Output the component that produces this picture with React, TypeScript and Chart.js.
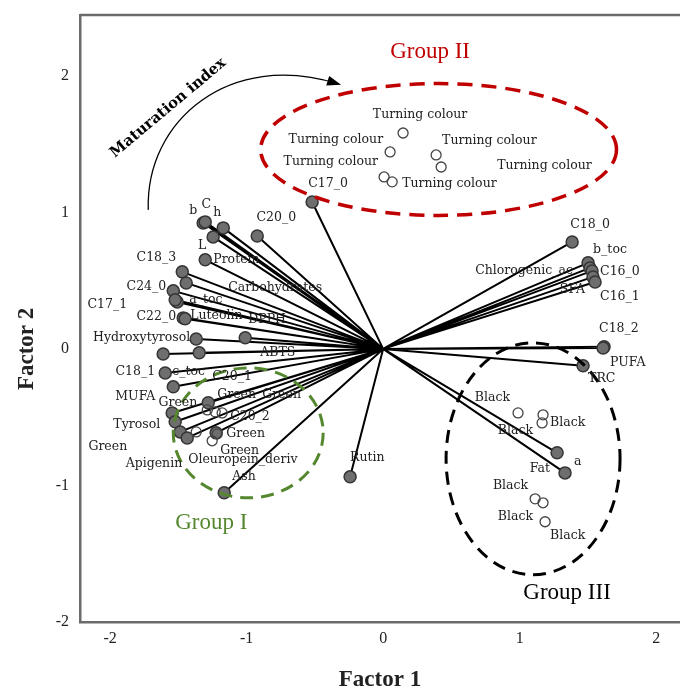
import React, { useEffect, useRef } from "react";
import { Chart, registerables } from "chart.js";
Chart.register(...registerables);

// ---- axis ticks ----
const xTicks = [-2, -1, 0, 1, 2];
const yTicks = [-2, -1, 0, 1, 2];

// ---- variable loadings (filled points with vectors from origin) ----
const varNames = [
  "b", "C", "h", "L", "Protein", "C20_0", "C17_0", "C18_3", "Carbohydrates", "C24_0",
  "a_toc", "C17_1", "C22_0", "Luteolin", "DPPH", "Hydroxytyrosol", "ABTS", "c_toc", "C18_1", "MUFA",
  "C20_1", "Tyrosol", "", "Oleuropein_deriv", "Apigenin", "C20_2", "Ash", "Rutin",
  "C18_0", "b_toc", "Chlorogenic_ac", "C16_0", "SFA", "C16_1", "C18_2", "PUFA", "TRC", "a", "Fat",
];
const varX = [
  -1.318, -1.303, -1.171, -1.245, -1.303, -0.922, -0.52, -1.471, -1.442, -1.537,
  -1.508, -1.523, -1.464, -1.45, -1.01, -1.369, -1.347, -1.611, -1.596, -1.537,
  -1.281, -1.545, -1.523, -1.486, -1.435, -1.223, -1.164, -0.242,
  1.384, 1.501, 1.515, 1.53, 1.537, 1.552, 1.618, 1.611, 1.464, 1.274, 1.332,
];
const varY = [
  0.922, 0.93, 0.886, 0.82, 0.652, 0.827, 1.076, 0.564, 0.483, 0.425,
  0.344, 0.359, 0.227, 0.22, 0.081, 0.073, -0.029, -0.037, -0.176, -0.278,
  -0.395, -0.469, -0.534, -0.608, -0.652, -0.615, -1.054, -0.937,
  0.783, 0.63, 0.593, 0.571, 0.527, 0.49, 0.015, 0.007, -0.124, -0.761, -0.908,
];

// ---- observations (open circles) ----
const obsNames = [
  "Turning colour", "Turning colour", "Turning colour", "Turning colour", "Turning colour", "Turning colour",
  "Black", "Black", "Black", "Black", "Black", "Black",
  "Green", "Green", "Green", "Green", "Green", "Green",
];
const obsX = [
  0.146, 0.051, 0.388, 0.425, 0.007, 0.066,
  0.988, 1.171, 1.164, 1.113, 1.171, 1.186,
  -1.288, -1.23, -1.179, -1.369, -1.252, -1.215,
];
const obsY = [
  1.581, 1.442, 1.42, 1.332, 1.259, 1.223,
  -0.469, -0.483, -0.542, -1.098, -1.127, -1.266,
  -0.447, -0.461, -0.469, -0.608, -0.673, -0.622,
];

// ---- label placement (pixel offset from point, text alignment) ----
const varLabelPlace: [number, number, CanvasTextAlign][] = [
  [-10, -12, "center"], [1, -17, "center"], [-6, -15, "center"], [-11, 9, "center"], [8, 0, "left"],
  [19, -18, "center"], [16, -18, "center"], [-6, -14, "right"], [42, 5, "left"], [-7, -4, "right"],
  [12, -2, "left"], [-48, 5, "right"], [-7, -1, "right"], [5, -3, "left"], [3, -18, "left"],
  [-6, -1, "right"], [61, 0, "left"], [9, 18, "left"], [-10, -1, "right"], [-18, 10, "right"],
  [4, -26, "left"], [-12, 12, "right"], [0, 0, "left"], [8, 28, "left"], [-5, 26, "right"],
  [14, -16, "left"], [8, -16, "left"], [0, -19, "left"],
  [18, -17, "center"], [5, -13, "left"], [-17, 3, "right"], [8, 1, "left"], [-8, 13, "right"],
  [5, 15, "left"], [-5, -18, "left"], [7, 15, "left"], [5, 13, "left"], [17, 9, "left"], [-15, -4, "right"],
];
const obsLabelPlace: [number, number, CanvasTextAlign][] = [
  [17, -18, "center"], [-7, -12, "right"], [6, -14, "left"], [56, -1, "left"], [-6, -15, "right"], [10, 2, "left"],
  [-8, -15, "right"], [7, 8, "left"], [-9, 8, "right"], [-7, -13, "right"], [-10, 14, "right"], [5, 14, "left"],
  [-10, -7, "right"], [2, -17, "left"], [40, -18, "left"], [-69, 15, "right"], [8, 10, "left"], [9, 0, "left"],
];

// ---- groups (dashed ellipses, in data units) ----
const groupNames = ["Group I", "Group II", "Group III"];
const groupLabelX = [-1.259, 0.344, 1.347];
const groupLabelY = [-1.274, 2.174, -1.786];
const ellipseCX = [-0.988, 0.406, 1.098];
const ellipseCY = [-0.615, 1.46, -0.805];
const ellipseRX = [0.549, 1.303, 0.637];
const ellipseRY = [0.476, 0.483, 0.849];
const groupColors = ["#55872f", "#c00000", "#000000"];

// ---- maturation arrow (data units) ----
const arrowX = [-1.72, -1.742, -1.12, -0.329];
const arrowY = [1.018, 1.676, 2.189, 1.94];
const maturationText = "Maturation index";
const maturationX = -1.574;
const maturationY = 1.764;

const overlay = {
  id: "overlay",
  afterDatasetsDraw(chart: any) {
    const { ctx, chartArea, scales } = chart;
    const xs = scales.x;
    const ys = scales.y;
    const px = (v: number) => xs.getPixelForValue(v);
    const py = (v: number) => ys.getPixelForValue(v);
    ctx.save();

    // top frame line
    ctx.strokeStyle = "#6b6b6b";
    ctx.lineWidth = 2.5;
    ctx.beginPath();
    ctx.moveTo(chartArea.left, chartArea.top);
    ctx.lineTo(chartArea.right, chartArea.top);
    ctx.stroke();

    // group ellipses
    for (let i = 0; i < groupNames.length; i++) {
      const cx = px(ellipseCX[i]);
      const cy = py(ellipseCY[i]);
      const rx = px(ellipseCX[i] + ellipseRX[i]) - cx;
      const ry = cy - py(ellipseCY[i] + ellipseRY[i]);
      ctx.strokeStyle = groupColors[i];
      ctx.lineWidth = i === 1 ? 3.5 : 3;
      ctx.setLineDash(i === 1 ? [15, 9] : [13, 8]);
      ctx.beginPath();
      ctx.ellipse(cx, cy, rx, ry, 0, 0, Math.PI * 2);
      ctx.stroke();
    }
    ctx.setLineDash([]);

    // point labels
    ctx.font = '12.5px "DejaVu Serif"';
    ctx.fillStyle = "#222";
    ctx.textBaseline = "middle";
    for (let i = 0; i < varNames.length; i++) {
      if (!varNames[i]) continue;
      const [dx, dy, al] = varLabelPlace[i];
      ctx.textAlign = al;
      ctx.fillText(varNames[i], px(varX[i]) + dx, py(varY[i]) + dy);
    }
    for (let i = 0; i < obsNames.length; i++) {
      const [dx, dy, al] = obsLabelPlace[i];
      ctx.textAlign = al;
      ctx.fillText(obsNames[i], px(obsX[i]) + dx, py(obsY[i]) + dy);
    }

    // group labels
    ctx.font = '23px "Liberation Serif"';
    ctx.textAlign = "center";
    for (let i = 0; i < groupNames.length; i++) {
      ctx.fillStyle = groupColors[i];
      ctx.fillText(groupNames[i], px(groupLabelX[i]), py(groupLabelY[i]));
    }

    // maturation arrow
    const ax = arrowX.map(px);
    const ay = arrowY.map(py);
    ctx.strokeStyle = "#000";
    ctx.lineWidth = 1.3;
    ctx.beginPath();
    ctx.moveTo(ax[0], ay[0]);
    ctx.bezierCurveTo(ax[1], ay[1], ax[2], ay[2], ax[3], ay[3]);
    ctx.stroke();
    const ang = Math.atan2(ay[3] - ay[2], ax[3] - ax[2]);
    ctx.fillStyle = "#000";
    ctx.beginPath();
    ctx.moveTo(ax[3] + 3 * Math.cos(ang), ay[3] + 3 * Math.sin(ang));
    ctx.lineTo(ax[3] - 11 * Math.cos(ang) + 5 * Math.sin(ang), ay[3] - 11 * Math.sin(ang) - 5 * Math.cos(ang));
    ctx.lineTo(ax[3] - 11 * Math.cos(ang) - 5 * Math.sin(ang), ay[3] - 11 * Math.sin(ang) + 5 * Math.cos(ang));
    ctx.closePath();
    ctx.fill();

    ctx.save();
    ctx.translate(px(maturationX), py(maturationY));
    ctx.rotate((-40 * Math.PI) / 180);
    ctx.font = 'bold 15px "DejaVu Serif"';
    ctx.textAlign = "center";
    ctx.fillText(maturationText, 0, 0);
    ctx.restore();

    // axis titles
    ctx.fillStyle = "#222";
    ctx.font = 'bold 23px "Liberation Serif"';
    ctx.textAlign = "center";
    ctx.fillText("Factor 1", (chartArea.left + chartArea.right) / 2, 680);
    ctx.save();
    ctx.translate(27, py(0));
    ctx.rotate(-Math.PI / 2);
    ctx.fillText("Factor 2", 0, 0);
    ctx.restore();

    ctx.restore();
  },
};

export default function App() {
  const ref = useRef<HTMLCanvasElement | null>(null);
  useEffect(() => {
    if (!ref.current) return;
    const lineData: { x: number; y: number }[] = [];
    varX.forEach((vx, i) => {
      lineData.push({ x: 0, y: 0 }, { x: vx, y: varY[i] }, { x: NaN, y: NaN });
    });
    const tickFont = { family: '"Liberation Serif"', size: 16 };
    const chart = new Chart(ref.current, {
      type: "scatter",
      data: {
        datasets: [
          {
            label: "observations",
            data: obsX.map((v, i) => ({ x: v, y: obsY[i] })),
            pointRadius: 5,
            pointBackgroundColor: "rgba(255,255,255,0)",
            pointBorderColor: "#444",
            pointBorderWidth: 1.3,
          },
          {
            label: "variables",
            data: varX.map((v, i) => ({ x: v, y: varY[i] })),
            pointRadius: 6,
            pointBackgroundColor: "#6e6e6e",
            pointBorderColor: "#353535",
            pointBorderWidth: 1.5,
          },
          {
            label: "vectors",
            data: lineData,
            showLine: true,
            spanGaps: false,
            pointRadius: 0,
            borderColor: "#000",
            borderWidth: 2,
          } as any,
        ],
      },
      options: {
        responsive: false,
        animation: false,
        layout: { autoPadding: false, padding: { top: 15, right: 0, left: 0, bottom: 0 } },
        plugins: { legend: { display: false }, tooltip: { enabled: false } },
        scales: {
          x: {
            type: "linear",
            min: -2.22,
            max: 2.174,
            grid: { display: false, drawTicks: false },
            border: { display: true, color: "#6b6b6b", width: 2.5 },
            ticks: { font: tickFont, color: "#222", padding: 7, maxRotation: 0 },
            afterBuildTicks: (s: any) => {
              s.ticks = xTicks.map((v) => ({ value: v }));
            },
            afterFit: (s: any) => {
              s.height = 66;
              s.paddingLeft = 0;
              s.paddingRight = 0;
            },
          },
          y: {
            type: "linear",
            min: -2,
            max: 2.445,
            grid: { display: false, drawTicks: false },
            border: { display: true, color: "#6b6b6b", width: 2.5 },
            ticks: { font: tickFont, color: "#222", padding: 11 },
            afterBuildTicks: (s: any) => {
              s.ticks = yTicks.map((v) => ({ value: v }));
            },
            afterFit: (s: any) => {
              s.width = 80;
              s.paddingTop = 0;
              s.paddingBottom = 0;
            },
          },
        },
      },
      plugins: [overlay],
    });
    return () => chart.destroy();
  }, []);
  return (
    <div style={{ position: "absolute", left: 0, top: 0, width: 680, height: 688, background: "#fff" }}>
      <canvas ref={ref} width={680} height={688} style={{ display: "block" }} />
    </div>
  );
}
